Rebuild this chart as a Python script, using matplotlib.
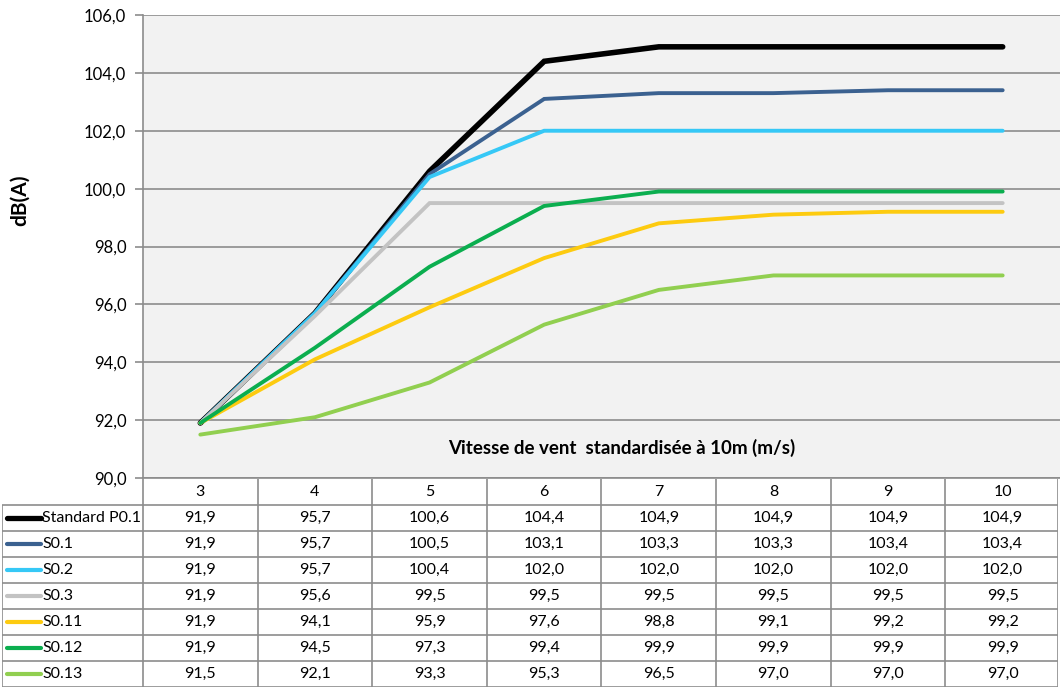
import matplotlib.pyplot as plt
import numpy as np

plt.rcParams['font.family'] = ['Lato', 'DejaVu Sans']

speeds = [3, 4, 5, 6, 7, 8, 9, 10]
names = ["Standard P0.1", "S0.1", "S0.2", "S0.3", "S0.11", "S0.12", "S0.13"]
standard_p01 = [91.9, 95.7, 100.6, 104.4, 104.9, 104.9, 104.9, 104.9]
s01 = [91.9, 95.7, 100.5, 103.1, 103.3, 103.3, 103.4, 103.4]
s02 = [91.9, 95.7, 100.4, 102.0, 102.0, 102.0, 102.0, 102.0]
s03 = [91.9, 95.6, 99.5, 99.5, 99.5, 99.5, 99.5, 99.5]
s011 = [91.9, 94.1, 95.9, 97.6, 98.8, 99.1, 99.2, 99.2]
s012 = [91.9, 94.5, 97.3, 99.4, 99.9, 99.9, 99.9, 99.9]
s013 = [91.5, 92.1, 93.3, 95.3, 96.5, 97.0, 97.0, 97.0]
series = [standard_p01, s01, s02, s03, s011, s012, s013]
colors = ["#000000", "#3b6190", "#36c8f6", "#c3c3c3", "#fdcb10", "#0bae4f", "#91cf50"]
widths = [4.0, 2.8, 2.8, 2.8, 2.8, 2.8, 2.8]
yticks = np.arange(90, 107, 2)

W, H = 1060, 688
fig = plt.figure(figsize=(W / 100, H / 100), dpi=100)
grid_col = "#8c8c8c"
fs = 11.5

# main plot area
ax = fig.add_axes([143 / W, (H - 478) / H, (W - 143) / W, 463 / H])
ax.set_facecolor("#f2f2f2")
x = np.arange(len(speeds))
for vals, c, lw in zip(series, colors, widths):
    ax.plot(x, vals, color=c, lw=lw, solid_capstyle="round", solid_joinstyle="miter")
ax.set_xlim(-0.5, len(speeds) - 0.5)
ax.set_ylim(90, 106)
ax.set_yticks(yticks)
ax.set_yticklabels([f"{v:.1f}".replace(".", ",") for v in yticks], fontsize=12)
ax.set_xticks([])
ax.yaxis.grid(True, color=grid_col, lw=1.2)
ax.set_axisbelow(True)
for s in ["top", "right"]:
    ax.spines[s].set_visible(False)
for s in ["left", "bottom"]:
    ax.spines[s].set_color(grid_col)
    ax.spines[s].set_linewidth(1.2)
ax.tick_params(axis="y", length=6, width=1.2, color=grid_col, pad=6)
ax.text((622 - 143) / (W - 143), (478 - 448) / 463,
        "Vitesse de vent  standardisée à 10m (m/s)", transform=ax.transAxes,
        ha="center", va="center", fontsize=13.5, fontweight="bold")
fig.text(20 / W, 1 - 200 / H, "dB(A)", rotation=90, ha="center", va="center",
         fontsize=15, fontweight="bold")

# data table below
col_w = (W - 143) / len(speeds)
label_w = (143 - 2) / col_w
right = (1058 - 143) / col_w - 0.5
tax = fig.add_axes([2 / W, 1 / H, (1058 - 2) / W, 208 / H])
tax.set_xlim(-0.5 - label_w, right)
nrows = len(names) + 1
tax.set_ylim(nrows, 0)
tax.axis("off")
lk = dict(color=grid_col, lw=1.2, solid_capstyle="butt")
# horizontal lines
for r in range(1, nrows + 1):
    tax.plot([-0.5 - label_w, right], [r, r], **lk)
# vertical lines
for i in range(len(speeds) + 1):
    b = min(i - 0.5, right)
    tax.plot([b, b], [0, nrows], **lk)
tax.plot([-0.5 - label_w, -0.5 - label_w], [1, nrows], **lk)
for i, s in enumerate(speeds):
    tax.text(i, 0.5, str(s), ha="center", va="center", fontsize=fs)
for r, (nm, vals, c) in enumerate(zip(names, series, colors), start=1):
    lx0 = -0.5 - label_w + 0.04
    tax.plot([lx0, lx0 + 0.3], [r + 0.5, r + 0.5], color=c,
             lw=3.8 if r == 1 else 3.0, solid_capstyle="round")
    tax.text(lx0 + 0.31, r + 0.5, nm, ha="left", va="center", fontsize=fs)
    for i, v in enumerate(vals):
        tax.text(i, r + 0.5, f"{v:.1f}".replace(".", ","), ha="center", va="center",
                 fontsize=fs)

fig.savefig("out.png", dpi=100)
